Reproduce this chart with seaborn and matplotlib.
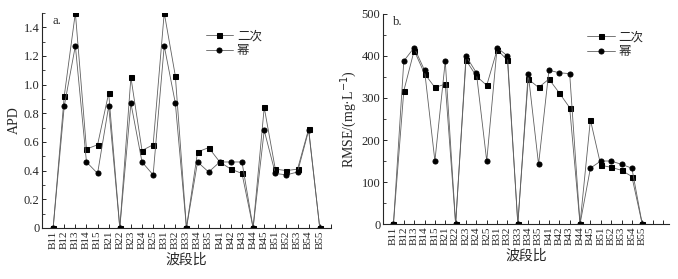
import numpy as np
import pandas as pd
import matplotlib
matplotlib.use("Agg")
import matplotlib.pyplot as plt
import seaborn as sns
from matplotlib.ticker import MultipleLocator

# 波段比
bands = ["B11", "B12", "B13", "B14", "B15", "B21", "B22", "B23", "B24", "B25",
         "B31", "B32", "B33", "B34", "B35", "B41", "B42", "B43", "B44", "B45",
         "B51", "B52", "B53", "B54", "B55"]

# a. APD
apd_quad = [0, 0.92, 1.50, 0.55, 0.58, 0.94, 0, 1.05, 0.54, 0.58,
            1.50, 1.06, 0, 0.53, 0.56, 0.46, 0.41, 0.38, 0, 0.84,
            0.41, 0.40, 0.41, 0.69, 0]
apd_pow = [0, 0.85, 1.27, 0.46, 0.38, 0.85, 0, 0.87, 0.46, 0.37,
           1.27, 0.87, 0, 0.46, 0.39, 0.46, 0.46, 0.46, 0, 0.68,
           0.38, 0.37, 0.39, 0.68, 0]

# b. RMSE
rmse_quad = [0, 317, 413, 358, 325, 333, 0, 390, 352, 330,
             415, 390, 0, 345, 325, 345, 312, 277, 0, 248,
             140, 135, 128, 113, 0]
rmse_pow = [0, 388, 420, 366, 150, 388, 0, 400, 360, 150,
            420, 400, 0, 358, 142, 366, 360, 358, 0, 133,
            150, 150, 142, 133, 0]

series = ["二次", "幂"]

sns.set_style("ticks")
plt.rcParams["font.family"] = ["Liberation Serif", "Noto Sans CJK SC"]
plt.rcParams["xtick.direction"] = "in"
plt.rcParams["ytick.direction"] = "in"
plt.rcParams["axes.linewidth"] = 0.8


def make_df(quad, pw):
    idx = np.arange(len(bands))
    return pd.concat([
        pd.DataFrame({"idx": idx, "val": quad, "模型": series[0]}),
        pd.DataFrame({"idx": idx, "val": pw, "模型": series[1]}),
    ])


fig = plt.figure(figsize=(6.78, 2.79), dpi=100)
ax1 = fig.add_axes([0.062, 0.183, 0.426, 0.771])
ax2 = fig.add_axes([0.565, 0.197, 0.422, 0.753])

panels = [
    (ax1, make_df(apd_quad, apd_pow), "APD", (0, 1.5), 0.2, 0.1, 25, "a.", 0.80),
    (ax2, make_df(rmse_quad, rmse_pow), "RMSE/(mg·L$^{-1}$)", (0, 500), 100, 50, 26.6, "b.", 0.95),
]

for ax, df, ylab, ylim, major, minor, xmax, tag, lx in panels:
    sns.lineplot(data=df, x="idx", y="val", hue="模型", style="模型",
                 markers={"二次": "s", "幂": "o"}, dashes=False,
                 palette=["#606060", "#606060"], linewidth=0.6,
                 markersize=3.6, markerfacecolor="black",
                 markeredgecolor="black", ax=ax, legend=False)
    ax.set_xlim(-1, xmax)
    ax.set_ylim(*ylim)
    ticks = np.arange(0, int(xmax) + 1)
    ax.set_xticks(ticks)
    ax.set_xticklabels([bands[i] if i < len(bands) else "" for i in ticks],
                       rotation=90, fontsize=8)
    ax.yaxis.set_major_locator(MultipleLocator(major))
    ax.yaxis.set_minor_locator(MultipleLocator(minor))
    if major < 1:
        ax.set_yticklabels([("0" if abs(t) < 1e-9 else f"{t:.1f}") for t in ax.get_yticks()])
    ax.tick_params(axis="y", labelsize=9)
    ax.tick_params(axis="both", length=3, width=0.7, pad=2)
    ax.tick_params(axis="y", which="minor", length=2, width=0.6)
    ax.set_xlabel("波段比", fontsize=10, labelpad=3)
    ax.set_ylabel(ylab, fontsize=10, labelpad=2)
    sns.despine(ax=ax)
    ax.text(0.035, 0.99, tag, transform=ax.transAxes, fontsize=9,
            va="top", ha="left")
    ax.legend(handles=ax.lines[:2], labels=series, loc="upper right",
              bbox_to_anchor=(lx, 0.97), frameon=False, fontsize=9,
              handlelength=2.2, handletextpad=0.3, labelspacing=0.2)

fig.savefig("out.png", dpi=100)
